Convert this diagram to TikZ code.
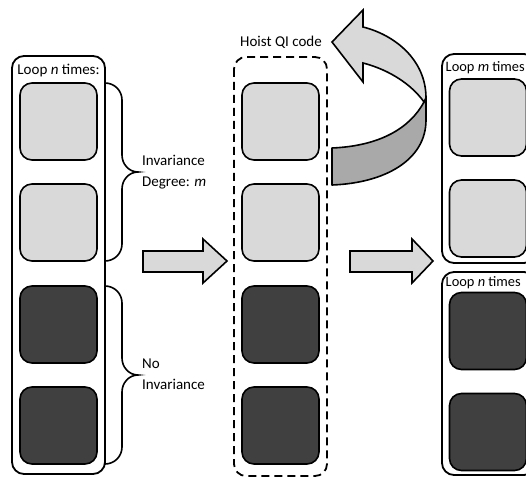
\documentclass[tikz,border=0pt]{standalone}
\usepackage{fontspec}
\setmainfont{Carlito}
\begin{document}
\begin{tikzpicture}[x=1pt,y=-1pt,
  loopbox/.style={draw,line width=1.8pt,rounded corners=12pt,inner sep=0pt},
  lsq/.style={draw,line width=1.6pt,rounded corners=12pt,fill=lightg,minimum width=77pt,minimum height=77pt,inner sep=0pt},
  dsq/.style={lsq,fill=darkg},
  lbl/.style={font=\fontsize{15pt}{21pt}\selectfont,inner sep=0pt},
  rlbl/.style={font=\fontsize{14.4pt}{20pt}\selectfont,inner sep=0pt,anchor=west},
  blockarrow/.style={draw,line width=1.6pt,fill=lightg,line join=miter},
  bracepath/.style={draw,line width=1.6pt}
]
\definecolor{lightg}{HTML}{D9D9D9}
\definecolor{darkg}{HTML}{404040}
\definecolor{sideg}{HTML}{A9A9A9}
\useasboundingbox (0,0) rectangle (526,478);
\clip (0,0) rectangle (526,478);
% left loop
\draw[loopbox] (12,56) rectangle (105,474);
\node[lbl] (lt) at (58.5,71) {Loop \textit{n} times:};
\node[lsq] (l1) at (58.5,121.5) {};
\node[lsq] (l2) at (58.5,222.5) {};
\node[dsq] (l3) at (58.5,324.5) {};
\node[dsq] (l4) at (58.5,425.5) {};
% braces
\draw[bracepath] (105,83) to[out=0,in=90] (122,100) -- (122,155) to[out=-90,in=180] (138,172)
  to[out=180,in=90] (122,189) -- (122,244) to[out=-90,in=0] (105,261);
\draw[bracepath] (105,286) to[out=0,in=90] (122,303) -- (122,358) to[out=-90,in=180] (138,375)
  to[out=180,in=90] (122,392) -- (122,447) to[out=-90,in=0] (105,464);
\node[lbl,anchor=west,align=left] (inv) at (142,172.5) {Invariance\\Degree: \textit{m}};
\node[lbl,anchor=west,align=left] (noinv) at (142,374.5) {No\\Invariance};
% arrow 1
\draw[blockarrow] (143,251) -- (203,251) -- (203,239) -- (227,261) -- (203,283) -- (203,272) -- (143,272) -- cycle;
% middle dashed box
\draw[loopbox,dash pattern=on 8pt off 5pt] (234,57) rectangle (327,476);
\node[lbl] (hq) at (281,42) {Hoist QI code};
\node[lsq] (m1) at (280.5,121.5) {};
\node[lsq] (m2) at (280.5,222.5) {};
\node[dsq] (m3) at (280.5,324.5) {};
\node[dsq] (m4) at (280.5,425.5) {};
% curved hoist arrow
\draw[line width=1.6pt,fill=sideg,line join=round]
  (424,102) .. controls (410,128) and (380,146) .. (332,148) -- (332,185)
  .. controls (385,183) and (426,160) .. (426,120) -- (426,98) -- cycle;
\draw[line width=1.6pt,fill=lightg,line join=miter]
  (332,42) -- (363,10) -- (363,27) .. controls (395,35) and (426,60) .. (426,98) -- (424,102)
  .. controls (412,85) and (390,70) .. (363,63) -- (363,82) -- cycle;
% arrow 2
\draw[blockarrow] (350,251) -- (412,251) -- (412,239) -- (433,261) -- (412,283) -- (412,272) -- (350,272) -- cycle;
% right loops
\draw[loopbox] (442,54) rectangle (536,263);
\node[rlbl] (rt1) at (445.5,68) {Loop \textit{m} times};
\node[lsq] (r1) at (488,117.5) {};
\node[lsq] (r2) at (488,218.5) {};
\draw[loopbox] (442,272) rectangle (536,475);
\node[rlbl] (rt2) at (445.5,283) {Loop \textit{n} times};
\node[dsq] (r3) at (488,331) {};
\node[dsq] (r4) at (488,432) {};
\end{tikzpicture}
\end{document}
